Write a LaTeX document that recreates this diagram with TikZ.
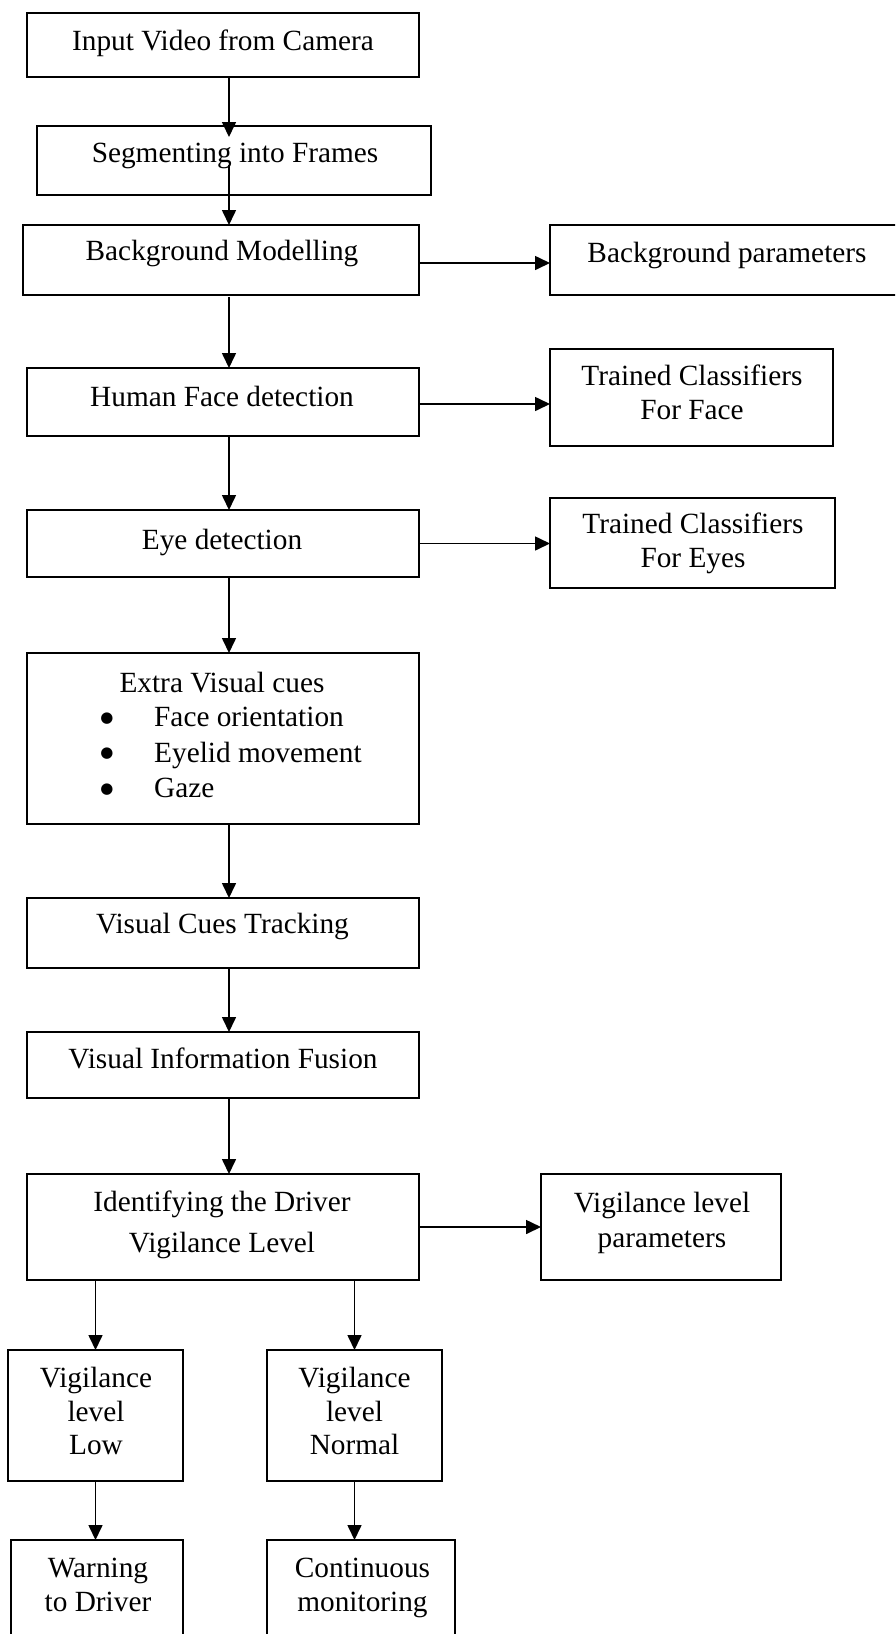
\documentclass[tikz,border=0pt]{standalone}
\usepackage{fontspec}
\setmainfont{Liberation Serif}
\newfontfamily\bulfont{DejaVu Sans}
\usetikzlibrary{arrows.meta}
\begin{document}
\begin{tikzpicture}[x=1pt,y=-1pt,
  box/.style={draw, line width=1.6pt, rectangle, inner sep=0pt, outer sep=0pt},
  txt/.style={anchor=base, inner sep=0pt, font=\fontsize{29.3}{34}\selectfont},
  txtw/.style={anchor=base west, inner sep=0pt, font=\fontsize{29.3}{34}\selectfont},
  bul/.style={anchor=center, inner sep=0pt, font=\bulfont\fontsize{15}{17}\selectfont},
  arr/.style={line width=1.6pt, -{Triangle[length=15pt,width=14pt]}}]
\useasboundingbox (0,0) rectangle (895,1634);
\clip (0,0) rectangle (895,1634);
\fill[white] (0,0) rectangle (895,1634);
% boxes
\node[box, minimum width=392pt, minimum height=64pt] (inp) at (223,45) {};
\node[box, minimum width=394pt, minimum height=69pt] (seg) at (234,160.5) {};
\node[box, minimum width=396pt, minimum height=70pt] (bg) at (221,260) {};
\node[box, minimum width=355pt, minimum height=70pt] (bgp) at (727.5,260) {};
\node[box, minimum width=392pt, minimum height=68pt] (hf) at (223,402) {};
\node[box, minimum width=283pt, minimum height=97pt] (tf) at (691.5,397.5) {};
\node[box, minimum width=392pt, minimum height=67pt] (eye) at (223,543.5) {};
\node[box, minimum width=285pt, minimum height=90pt] (te) at (692.5,543) {};
\node[box, minimum width=392pt, minimum height=171pt] (ext) at (223,738.5) {};
\node[box, minimum width=392pt, minimum height=70pt] (vct) at (223,933) {};
\node[box, minimum width=392pt, minimum height=66pt] (vif) at (223,1065) {};
\node[box, minimum width=392pt, minimum height=106pt] (idv) at (223,1227) {};
\node[box, minimum width=240pt, minimum height=106pt] (vp) at (661,1227) {};
\node[box, minimum width=175pt, minimum height=131pt] (low) at (95.5,1415.5) {};
\node[box, minimum width=175pt, minimum height=131pt] (nor) at (354.5,1415.5) {};
\node[box, minimum width=172pt, minimum height=120pt] (warn) at (97,1600) {};
\node[box, minimum width=188pt, minimum height=120pt] (cont) at (361,1600) {};
% texts
\node[txt] (inpT) at (223,50) {Input Video from Camera};
\node[txt] (segT) at (235,162) {Segmenting into Frames};
\node[txt] (bgT) at (222,260) {Background Modelling};
\node[txt] (bgpT) at (727,262) {Background parameters};
\node[txt] (tfT1) at (692,385) {Trained Classifiers};
\node[txt] (tfT2) at (692,419) {For Face};
\node[txt] (hfT) at (222,406) {Human Face detection};
\node[txt] (eyeT) at (222,549) {Eye detection};
\node[txt] (teT1) at (693,533) {Trained Classifiers};
\node[txt] (teT2) at (693,567) {For Eyes};
\node[txt] (extT) at (222,692) {Extra Visual cues};
\node[bul] (b1) at (107,718.3) {●};
\node[bul] (b2) at (107,754) {●};
\node[bul] (b3) at (107,789.3) {●};
\node[txtw] (i1) at (154,726) {Face orientation};
\node[txtw] (i2) at (154,762) {Eyelid movement};
\node[txtw] (i3) at (154,797) {Gaze};
\node[txt] (vctT) at (222.5,933) {Visual Cues Tracking};
\node[txt] (vifT) at (223,1068) {Visual Information Fusion};
\node[txt] (idvT1) at (222,1211) {Identifying the Driver};
\node[txt] (idvT2) at (222,1252) {Vigilance Level};
\node[txt] (vpT1) at (662,1212) {Vigilance level};
\node[txt] (vpT2) at (662,1247) {parameters};
\node[txt] (lowT1) at (96,1387) {Vigilance};
\node[txt] (lowT2) at (96,1421) {level};
\node[txt] (lowT3) at (96,1454) {Low};
\node[txt] (norT1) at (354.5,1387) {Vigilance};
\node[txt] (norT2) at (354.5,1421) {level};
\node[txt] (norT3) at (354.5,1454) {Normal};
\node[txt] (warnT1) at (98,1577) {Warning};
\node[txt] (warnT2) at (98,1611) {to Driver};
\node[txt] (contT1) at (362.5,1577) {Continuous};
\node[txt] (contT2) at (362.5,1611) {monitoring};
% connectors
\draw[arr] ([xshift=6pt]inp.south) -- ([xshift=-5pt,yshift=-11pt]seg.north);
\draw[arr] ([xshift=-5pt,yshift=30pt]seg.south) -- ([xshift=8pt]bg.north);
\draw[arr] ([xshift=8pt,yshift=-2pt]bg.south) -- ([xshift=6pt]hf.north);
\draw[arr] ([xshift=6pt]hf.south) -- ([xshift=6pt]eye.north);
\draw[arr] ([xshift=6pt]eye.south) -- ([xshift=6pt]ext.north);
\draw[arr] ([xshift=6pt]ext.south) -- ([xshift=6pt]vct.north);
\draw[arr] ([xshift=6pt]vct.south) -- ([xshift=6pt]vif.north);
\draw[arr] ([xshift=6pt]vif.south) -- ([xshift=6pt]idv.north);
\draw[arr] (low.north |- idv.south) -- (low.north);
\draw[arr] (nor.north |- idv.south) -- (nor.north);
\draw[arr] (low.south) -- (low.south |- warn.north);
\draw[arr] (nor.south) -- (nor.south |- cont.north);
\draw[arr] ([yshift=-3pt]bg.east) -- ([yshift=-3pt]bg.east -| bgp.west);
\draw[arr] ([yshift=-2pt]hf.east) -- ([yshift=-2pt]hf.east -| tf.west);
\draw[arr] (eye.east) -- (eye.east -| te.west);
\draw[arr] (idv.east) -- (vp.west);
\end{tikzpicture}
\end{document}
